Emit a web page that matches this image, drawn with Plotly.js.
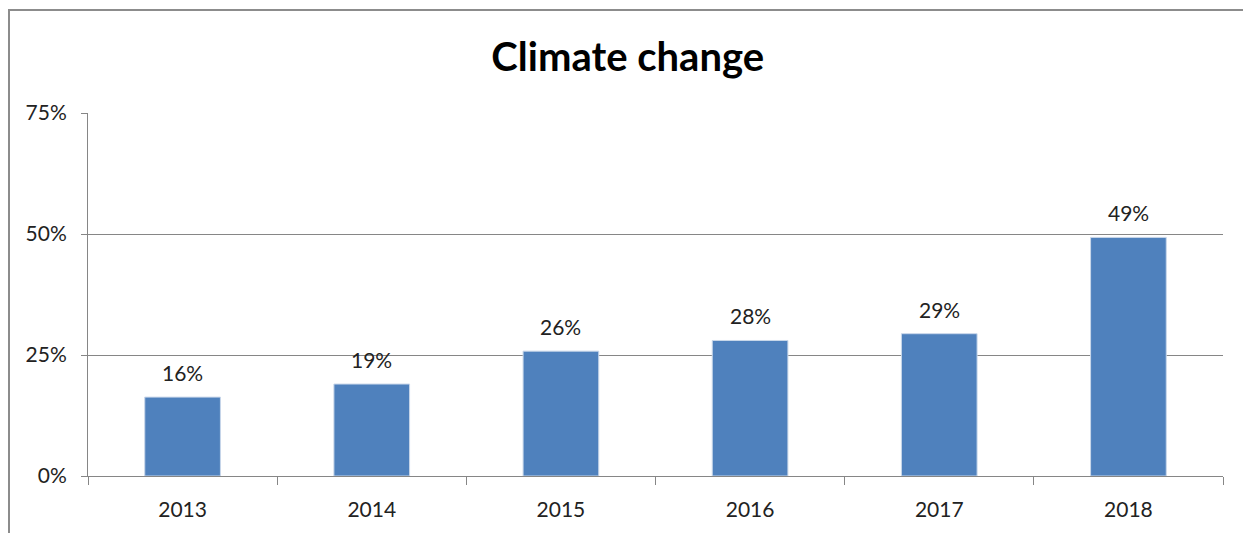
<!DOCTYPE html>
<html>
<head>
<meta charset="utf-8">
<script src="https://cdn.plot.ly/plotly-3.0.1.min.js"></script>
<style>
  html, body { margin: 0; padding: 0; background: #fff; overflow: hidden; }
  #chart { position: absolute; left: 0; top: 0; width: 1243px; height: 533px; }
  #frame { position: absolute; left: 8px; top: 9px; width: 1250px; height: 540px;
           border-left: 2px solid #8c8c8c; border-top: 2px solid #8c8c8c;
           pointer-events: none; box-sizing: border-box; }
</style>
</head>
<body>
<div id="chart"></div>
<div id="frame"></div>
<script>
const years = ['2013', '2014', '2015', '2016', '2017', '2018'];
const shares = [16.3, 19.0, 25.8, 28.0, 29.4, 49.3];
const labels = ['16%', '19%', '26%', '28%', '29%', '49%'];
const yTicks = [0, 25, 50, 75];
const yTickText = ['0%', '25%', '50%', '75%'];

const font = 'Lato, "Open Sans", sans-serif';

// category axis: annotation x given as category index
const annotations = years.map((yr, i) => ({
  x: i, y: shares[i], text: labels[i],
  xref: 'x', yref: 'y', showarrow: false,
  yanchor: 'bottom', yshift: 10,
  font: { family: font, size: 21, color: '#222' }
}));

Plotly.newPlot('chart', [{
  type: 'bar',
  x: years,
  y: shares,
  marker: { color: '#4F81BD', line: { color: '#c9d7ea', width: 1 } },
  width: 0.4,
  hoverinfo: 'none'
}], {
  width: 1243, height: 533,
  margin: { l: 88, r: 20, t: 113, b: 57 },
  paper_bgcolor: '#fff', plot_bgcolor: '#fff',
  title: { text: '<b>Climate change</b>', x: 0.505, xanchor: 'center', y: 0.893, yanchor: 'middle',
           font: { family: font, size: 40, color: '#000' } },
  showlegend: false,
  annotations: annotations,
  xaxis: {
    type: 'category',
    range: [-0.5, years.length - 0.5],
    showline: true, linecolor: '#868686', linewidth: 1,
    ticks: 'outside', tickson: 'boundaries', ticklen: 8, tickcolor: '#868686',
    ticklabelstandoff: 15,
    tickfont: { family: font, size: 21, color: '#222' },
    showgrid: false, zeroline: false, fixedrange: true
  },
  yaxis: {
    range: [0, 75],
    tickvals: yTicks, ticktext: yTickText,
    showline: true, linecolor: '#868686', linewidth: 1,
    ticks: 'outside', ticklen: 6, tickcolor: '#868686',
    ticklabelstandoff: 10,
    tickfont: { family: font, size: 21, color: '#222' },
    showgrid: true, gridcolor: '#868686', gridwidth: 1,
    zeroline: false, fixedrange: true
  }
}, { displayModeBar: false, staticPlot: true });
</script>
</body>
</html>
